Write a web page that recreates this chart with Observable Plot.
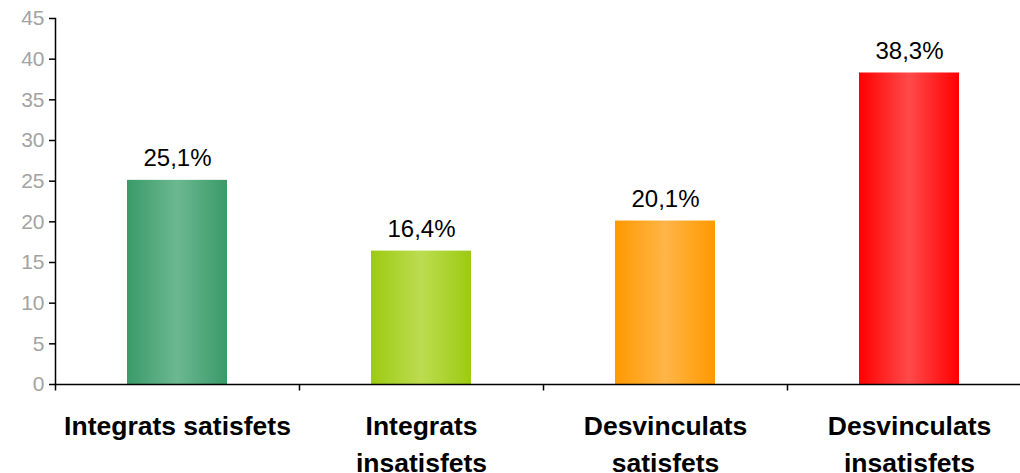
<!DOCTYPE html>
<html><head><meta charset="utf-8">
<script src="https://cdn.jsdelivr.net/npm/d3@7"></script>
<script src="https://cdn.jsdelivr.net/npm/@observablehq/plot@0.6"></script>
<style>
html,body{margin:0;padding:0;background:#fff;overflow:hidden;}
#chart svg{display:block;overflow:visible;}
</style></head>
<body><div id="chart"></div>
<script>
const categories = ["Integrats satisfets", "Integrats insatisfets", "Desvinculats satisfets", "Desvinculats insatisfets"];
const labelLines = [["Integrats satisfets"], ["Integrats", "insatisfets"], ["Desvinculats", "satisfets"], ["Desvinculats", "insatisfets"]];
const values = [25.1, 16.4, 20.1, 38.3];
const valueLabels = ["25,1%", "16,4%", "20,1%", "38,3%"];
const edgeColors = ["#3a9a68", "#9ccb12", "#ff9900", "#ff0000"];
const centerColors = ["#6cb890", "#bcdc50", "#ffb548", "#ff4a4a"];
const yTicks = [0, 5, 10, 15, 20, 25, 30, 35, 40, 45];

const data = categories.map((c, i) => ({cat: c, value: values[i], label: valueLabels[i], grad: `url(#g${i})`, lines: labelLines[i]}));

const step = 244;
const plot = Plot.plot({
  width: 1020,
  height: 473,
  marginLeft: 55,
  marginTop: 18,
  marginBottom: 89,
  marginRight: 0,
  style: {fontFamily: "'Liberation Sans', Arial, sans-serif", background: "white"},
  x: {domain: categories, range: [55, 55 + 4 * step], paddingInner: 0.59, paddingOuter: 0.295, axis: null},
  y: {domain: [0, 45], axis: null},
  marks: [
    Plot.barY(data, {x: "cat", y: "value", fill: "grad"}),
    Plot.axisY(yTicks, {label: null, tickSize: 6, tickPadding: 5, fontSize: 21, color: "#a3a3a3", stroke: "black", strokeWidth: 1.5, strokeOpacity: 1, tickFormat: d => String(d)}),
    Plot.frame({anchor: "left", stroke: "black", strokeWidth: 1.5}),
    Plot.frame({anchor: "bottom", stroke: "black", strokeWidth: 1.5}),
    Plot.ruleX(categories, {x: d => d, y1: 0, y2: -0.8, dx: -step / 2, stroke: "black", strokeWidth: 1.5}),
    Plot.text(data, {x: "cat", y: "value", text: "label", dy: -22, fontSize: 24, fill: "black"}),
    Plot.text(data, {x: "cat", y: 0, text: d => d.lines.join("\n"), lineAnchor: "top", lineHeight: 1.4, dy: 24, fontSize: 26.5, fontWeight: "bold", fill: "black"})
  ]
});

const ns = "http://www.w3.org/2000/svg";
const defs = document.createElementNS(ns, "defs");
edgeColors.forEach((e, i) => {
  const g = document.createElementNS(ns, "linearGradient");
  g.setAttribute("id", "g" + i);
  g.setAttribute("x1", "0"); g.setAttribute("x2", "1"); g.setAttribute("y1", "0"); g.setAttribute("y2", "0");
  [[0, e], [0.5, centerColors[i]], [1, e]].forEach(([o, c]) => {
    const s = document.createElementNS(ns, "stop");
    s.setAttribute("offset", o);
    s.setAttribute("stop-color", c);
    g.appendChild(s);
  });
  defs.appendChild(g);
});
plot.insertBefore(defs, plot.firstChild);
document.getElementById("chart").appendChild(plot);
</script>
</body></html>
